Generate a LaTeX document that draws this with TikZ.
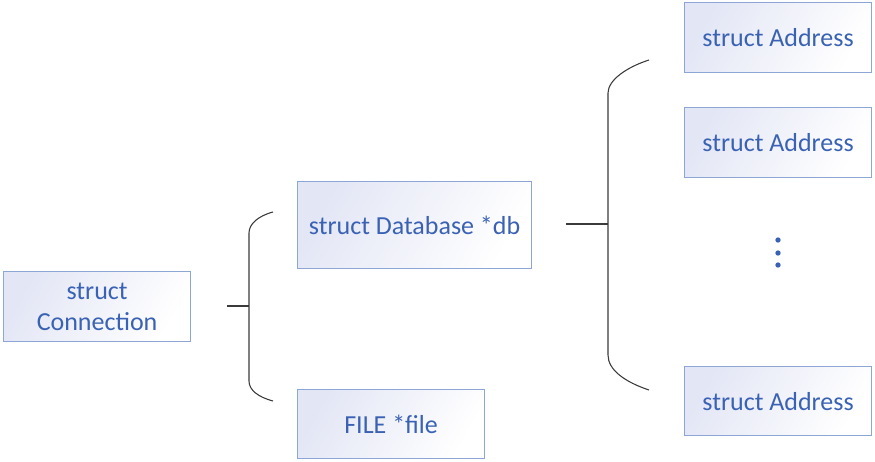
\documentclass[tikz,border=0pt]{standalone}
\usepackage{fontspec}
\setmainfont{Carlito}
\definecolor{txtblue}{HTML}{3A62B4}
\definecolor{boxedge}{HTML}{8EA6D6}
\definecolor{boxfill}{HTML}{E3E6F5}
\definecolor{braceline}{HTML}{3A3A3A}
\begin{document}
\begin{tikzpicture}[x=0.75pt,y=-0.75pt,
  box/.style={draw=boxedge,line width=0.9pt,left color=boxfill,right color=white,shading angle=60,
    inner sep=0pt,anchor=north west,text=txtblue,
    font=\fontsize{19.5}{23.4}\selectfont,align=center},
  brace/.style={draw=braceline,line width=0.8pt},
  dot/.style={circle,fill=txtblue,inner sep=0pt,minimum size=4pt}]
\useasboundingbox (0,0) rectangle (875,461);
% boxes
\node[box,minimum width=187*0.75pt,minimum height=70*0.75pt] (conn) at (3,271) {struct\\Connection};
\node[box,minimum width=234*0.75pt,minimum height=87*0.75pt] (db) at (297,181) {struct Database *db};
\node[box,minimum width=187*0.75pt,minimum height=69*0.75pt] (file) at (297,389) {FILE *file};
\node[box,minimum width=187*0.75pt,minimum height=70*0.75pt] (addr1) at (684,2) {struct Address};
\node[box,minimum width=187*0.75pt,minimum height=70*0.75pt] (addr2) at (684,107) {struct Address};
\node[box,minimum width=187*0.75pt,minimum height=69*0.75pt] (addr3) at (684,366) {struct Address};
% dots
\node[dot] (d1) at (778,240) {};
\node[dot] (d2) at (778,253) {};
\node[dot] (d3) at (778,265) {};
% brace 1
\coordinate (b1top) at (273,212);
\coordinate (b1bot) at (273,401);
\coordinate (b1mid) at (249,306);
\coordinate (t1) at (227,306);
\draw[brace] (b1top) .. controls (258,216) and (249,224) .. (249,233)
  -- (249,381) .. controls (249,390) and (258,397) .. (b1bot);
\draw[brace] (t1) -- (b1mid);
% brace 2
\coordinate (b2top) at (649,60);
\coordinate (b2bot) at (649,390);
\coordinate (b2mid) at (608,224);
\coordinate (t2) at (566,224);
\draw[brace] (b2top) .. controls (627,67) and (608,80) .. (608,93)
  -- (608,355) .. controls (608,370) and (625,382) .. (b2bot);
\draw[brace] (t2) -- (b2mid);
\end{tikzpicture}
\end{document}
